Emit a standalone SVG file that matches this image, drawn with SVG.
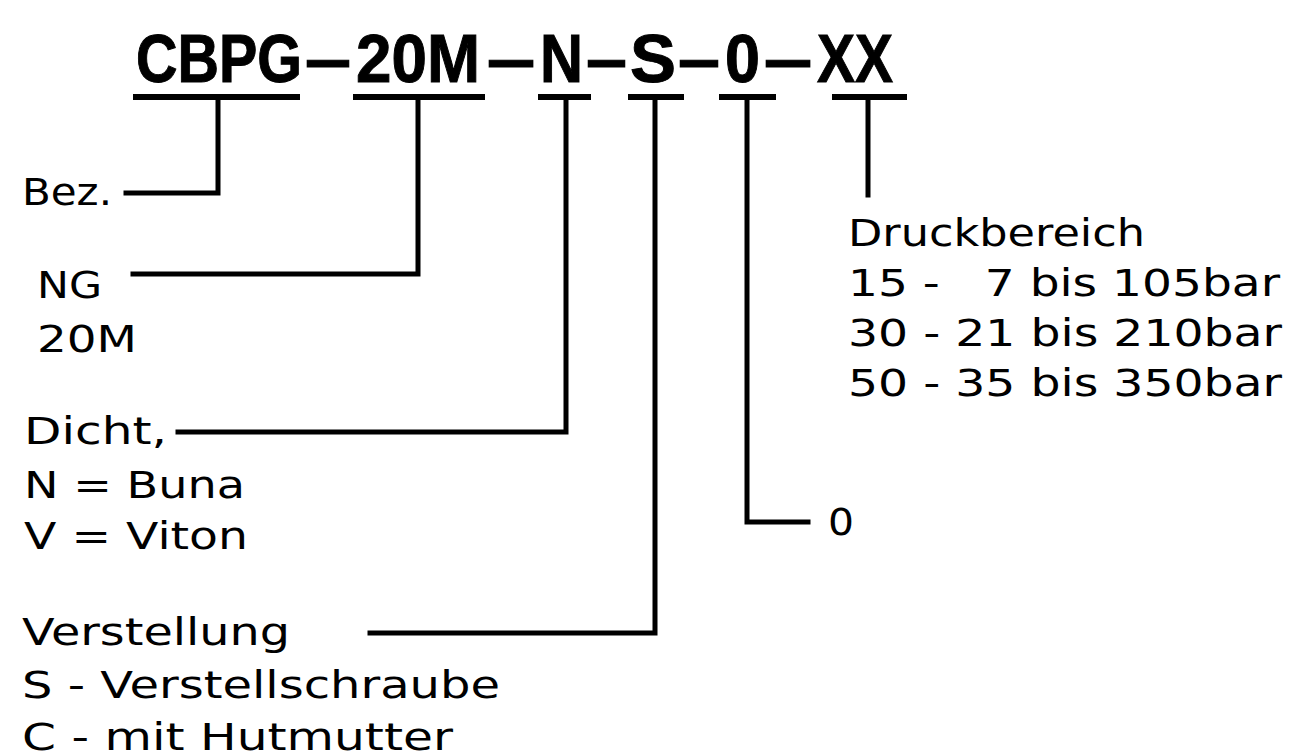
<svg xmlns="http://www.w3.org/2000/svg" width="1302" height="752" viewBox="0 0 1302 752">
<style>
.code{font-family:"Liberation Sans Narrow","Liberation Sans",Arial,sans-serif;font-weight:bold;font-size:68px;fill:#000;stroke:#000;stroke-width:1}
.lbl{font-family:"DejaVu Sans","Liberation Sans",sans-serif;font-size:37px;fill:#000}
.ul{stroke:#000;stroke-width:6;fill:none}
.ln{stroke:#000;stroke-width:5;fill:none;stroke-linecap:square}
</style>
<rect width="1302" height="752" fill="#fff"/>
<g id="code">
<g id="seg-cbpg"><text class="code" x="136" y="82" textLength="166" lengthAdjust="spacingAndGlyphs">CBPG</text><line class="ul" x1="133" y1="97" x2="300" y2="97"/></g>
<text class="code" x="307" y="82" textLength="42" lengthAdjust="spacingAndGlyphs">—</text>
<g id="seg-20m"><text class="code" x="356" y="82" textLength="124" lengthAdjust="spacingAndGlyphs">20M</text><line class="ul" x1="353" y1="97" x2="485" y2="97"/></g>
<text class="code" x="489" y="82" textLength="44" lengthAdjust="spacingAndGlyphs">—</text>
<g id="seg-n"><text class="code" x="540" y="82" textLength="43" lengthAdjust="spacingAndGlyphs">N</text><line class="ul" x1="538" y1="97" x2="591" y2="97"/></g>
<text class="code" x="588" y="82" textLength="37" lengthAdjust="spacingAndGlyphs">—</text>
<g id="seg-s"><text class="code" x="630" y="82" textLength="46" lengthAdjust="spacingAndGlyphs">S</text><line class="ul" x1="628" y1="97" x2="684" y2="97"/></g>
<text class="code" x="680" y="82" textLength="38" lengthAdjust="spacingAndGlyphs">—</text>
<g id="seg-0"><text class="code" x="725" y="82" textLength="35" lengthAdjust="spacingAndGlyphs">0</text><line class="ul" x1="719" y1="97" x2="776" y2="97"/></g>
<text class="code" x="766" y="82" textLength="44" lengthAdjust="spacingAndGlyphs">—</text>
<g id="seg-xx"><text class="code" x="817" y="82" textLength="76" lengthAdjust="spacingAndGlyphs">XX</text><line class="ul" x1="832" y1="97" x2="907" y2="97"/></g>
</g>
<g id="connectors">
<polyline class="ln" points="218,100 218,193 126,193"/>
<polyline class="ln" points="418,100 418,274 133,274"/>
<polyline class="ln" points="566,100 566,432 178,432"/>
<polyline class="ln" points="655,100 655,633 370,633"/>
<polyline class="ln" points="747,100 747,522 808,522"/>
<line class="ln" x1="868" y1="100" x2="868" y2="195"/>
</g>
<g id="label-bez"><text class="lbl" x="22" y="205" textLength="90" lengthAdjust="spacingAndGlyphs">Bez.</text></g>
<g id="label-ng"><text class="lbl" x="37" y="298" textLength="65" lengthAdjust="spacingAndGlyphs">NG</text><text class="lbl" x="37" y="352" textLength="100" lengthAdjust="spacingAndGlyphs">20M</text></g>
<g id="label-dicht">
<text class="lbl" x="24" y="444" textLength="143" lengthAdjust="spacingAndGlyphs">Dicht,</text>
<text class="lbl" x="24" y="498" textLength="221" lengthAdjust="spacingAndGlyphs">N = Buna</text>
<text class="lbl" x="24" y="549" textLength="224" lengthAdjust="spacingAndGlyphs">V = Viton</text>
</g>
<g id="label-verstellung">
<text class="lbl" x="22" y="645" textLength="268" lengthAdjust="spacingAndGlyphs">Verstellung</text>
<text class="lbl" x="22" y="698" textLength="478" lengthAdjust="spacingAndGlyphs">S - Verstellschraube</text>
<text class="lbl" x="22" y="750" textLength="431" lengthAdjust="spacingAndGlyphs">C - mit Hutmutter</text>
</g>
<g id="label-0"><text class="lbl" x="828" y="535" textLength="26" lengthAdjust="spacingAndGlyphs">0</text></g>
<g id="label-druck">
<text class="lbl" x="848" y="246" textLength="297" lengthAdjust="spacingAndGlyphs">Druckbereich</text>
<text class="lbl" x="848" y="296" textLength="432" lengthAdjust="spacingAndGlyphs" xml:space="preserve">15 -   7 bis 105bar</text>
<text class="lbl" x="848" y="346" textLength="434" lengthAdjust="spacingAndGlyphs">30 - 21 bis 210bar</text>
<text class="lbl" x="848" y="396" textLength="434" lengthAdjust="spacingAndGlyphs">50 - 35 bis 350bar</text>
</g>
</svg>
